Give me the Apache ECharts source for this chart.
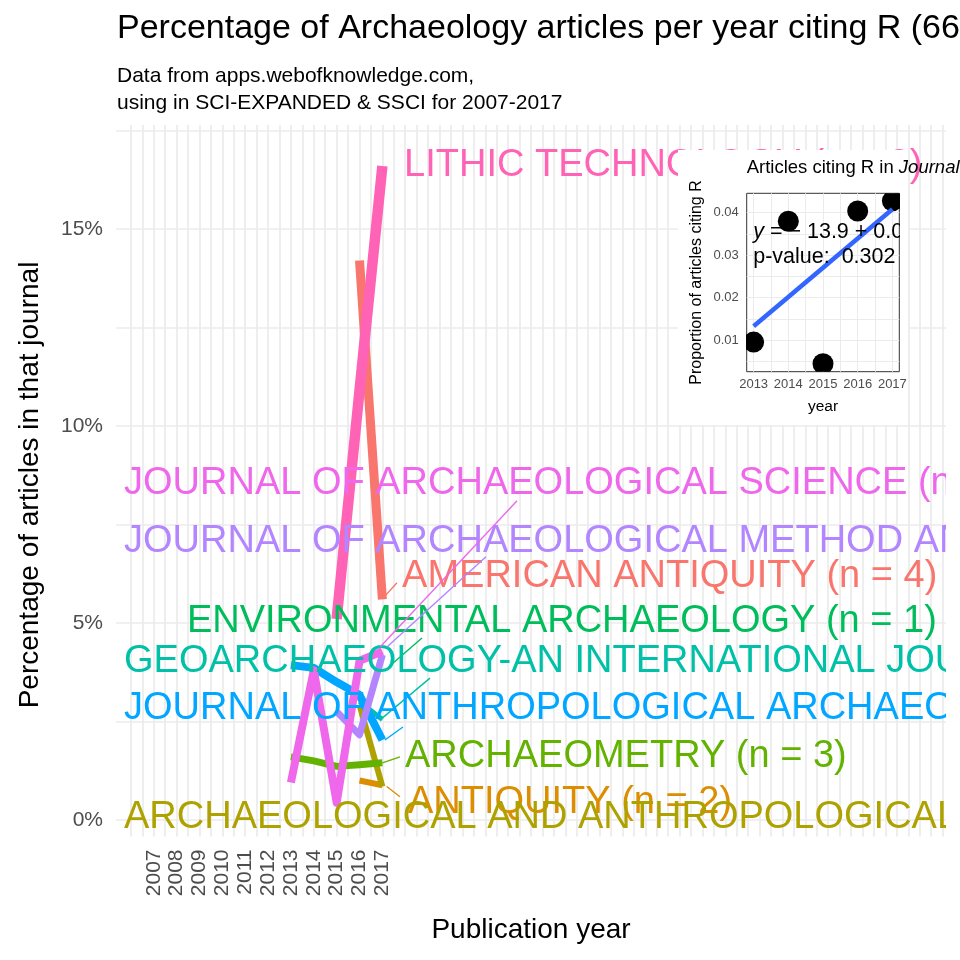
<!DOCTYPE html>
<html><head><meta charset="utf-8">
<script src="https://cdn.jsdelivr.net/npm/echarts@6/dist/echarts.min.js"></script>
<style>html,body{margin:0;padding:0;background:#fff}#c{width:960px;height:960px}</style>
</head><body><div id="c"></div>
<script>
// ---------------- DATA ----------------
const years = [2007, 2008, 2009, 2010, 2011, 2012, 2013, 2014, 2015, 2016, 2017];
const yTickValues = [0, 5, 10, 15];
const journals = [
  'AMERICAN ANTIQUITY', 'ANTIQUITY', 'ARCHAEOLOGICAL AND ANTHROPOLOGICAL SCIENCES',
  'ARCHAEOMETRY', 'ENVIRONMENTAL ARCHAEOLOGY', 'GEOARCHAEOLOGY-AN INTERNATIONAL JOURNAL',
  'JOURNAL OF ANTHROPOLOGICAL ARCHAEOLOGY', 'JOURNAL OF ARCHAEOLOGICAL METHOD AND THEORY',
  'JOURNAL OF ARCHAEOLOGICAL SCIENCE', 'LITHIC TECHNOLOGY'
];
const articleCounts = [4, 2, 2, 3, 1, 2, 5, 4, 25, 3];
// percentage of articles per year citing R, [year, percent]
const americanAntiquity = [[2016, 14.2], [2017, 5.6]];
const antiquity = [[2016, 1.0], [2017, 0.88]];
const archAnthSciences = [[2016, 2.92], [2017, 0.85]];
const archaeometry = [[2013, 1.6], [2014, 1.5], [2015, 1.36], [2016, 1.4], [2017, 1.45]];
const environmentalArch = [[2017, 3.85]];
const geoarchaeology = [[2016, 3.0], [2017, 2.55]];
const journalAnthArch = [[2013, 3.93], [2014, 3.86], [2015, 3.5], [2016, 3.17], [2017, 2.03]];
const journalArchMethod = [[2015, 2.75], [2016, 2.16], [2017, 4.19]];
const journalArchScience = [[2013, 0.95], [2014, 3.8], [2015, 0.44], [2016, 4.04], [2017, 4.28]];
const lithicTechnology = [[2015, 5.1], [2016, 10.9], [2017, 16.6]];
const journalValues = [americanAntiquity, antiquity, archAnthSciences, archaeometry, environmentalArch,
  geoarchaeology, journalAnthArch, journalArchMethod, journalArchScience, lithicTechnology];

// inset: Journal of Archaeological Science
const insetYears = [2013, 2014, 2015, 2016, 2017];
const insetProportion = [0.0095, 0.038, 0.0044, 0.0404, 0.0428];
const insetPValue = '0.302';

// ---------------- STYLE / LAYOUT ----------------
const FONT = '"Liberation Sans", Arial, Helvetica, sans-serif';
const colors = ['#F8766D', '#DB8E00', '#AEA200', '#64B200', '#00BD5C', '#00C1A7', '#00A6FF', '#B385FF', '#EF67EB', '#FF63B6'];
const lineWidths = [9, 6, 6, 7, 5, 5, 8, 7, 8, 10.5];
// repelled label anchors (left edge, vertical centre) in data units, and leader segments
const labelAnchors = [[2017.86, 6.17], [2018.12, 0.43], [2005.70, 0.05], [2017.99, 1.62], [2008.45, 5.03],
  [2005.70, 4.01], [2005.70, 2.84], [2005.70, 7.08], [2005.70, 8.53], [2017.95, 16.62]];
const leaders = [[2017.03, 5.63, 2017.64, 6.02], [2017.19, 0.85, 2017.77, 0.59], null, [2017.0, 1.45, 2017.77, 1.60],
  [2017.46, 3.98, 2018.73, 4.62], [2016.90, 2.54, 2019.08, 3.60], [2017.11, 2.03, 2017.90, 2.36],
  [2017.20, 4.39, 2021.53, 6.68], [2016.90, 4.39, 2022.89, 8.10], null];

const MAIN = { L: 116, R: 946, T: 125, B: 836.5, xMin: 2005.35, xMax: 2041.65, yMin: -0.42, yMax: 17.64 };
const mx = v => MAIN.L + (v - MAIN.xMin) / (MAIN.xMax - MAIN.xMin) * (MAIN.R - MAIN.L);
const my = v => MAIN.B - (v - MAIN.yMin) / (MAIN.yMax - MAIN.yMin) * (MAIN.B - MAIN.T);
const INS = { L: 746.7, R: 899.3, T: 193.3, B: 371.7, xMin: 2012.8, xMax: 2017.2, yMin: 0.00252, yMax: 0.04458 };
const ix = v => INS.L + (v - INS.xMin) / (INS.xMax - INS.xMin) * (INS.R - INS.L);
const iy = v => INS.B - (v - INS.yMin) / (INS.yMax - INS.yMin) * (INS.B - INS.T);

const GRID_COLOR = '#EBEBEB';
const TICK_COLOR = '#4D4D4D';

// regression fit for the inset
const n = insetYears.length;
const mxY = insetYears.reduce((a, b) => a + b, 0) / n;
const myP = insetProportion.reduce((a, b) => a + b, 0) / n;
let sxy = 0, sxx = 0;
insetYears.forEach((x, i) => { sxy += (x - mxY) * (insetProportion[i] - myP); sxx += (x - mxY) * (x - mxY); });
const slope = sxy / sxx;
const intercept = myP - slope * mxY;
const fitLine = [insetYears[0], insetYears[n - 1]].map(x => [x, intercept + slope * x]);

const hidden = { show: false };
const grids = [
  { left: MAIN.L, top: MAIN.T, width: MAIN.R - MAIN.L, height: MAIN.B - MAIN.T },
  { left: MAIN.L, top: my(17.5), width: MAIN.R - MAIN.L, height: my(0) - my(17.5) },
  { left: mx(2006), top: MAIN.T, width: mx(2041.5) - mx(2006), height: MAIN.B - MAIN.T },
  { left: INS.L, top: INS.T, width: INS.R - INS.L, height: INS.B - INS.T, show: true, borderColor: '#333333', borderWidth: 1, backgroundColor: 'transparent', zlevel: 1, z: 1 },
  { left: INS.L, top: iy(0.04), width: INS.R - INS.L, height: iy(0.005) - iy(0.04), zlevel: 1 },
  { left: ix(2013), top: INS.T, width: ix(2017) - ix(2013), height: INS.B - INS.T, zlevel: 1 }
].map(g => Object.assign({ containLabel: false, outerBoundsMode: 'none' }, g));

const xAxes = [
  { type: 'value', gridIndex: 0, min: MAIN.xMin, max: MAIN.xMax, show: false },
  { type: 'value', gridIndex: 1, min: 0, max: 1, show: false },
  { type: 'value', gridIndex: 2, min: 2006, max: 2041.5, interval: 0.5,
    axisLine: hidden, axisTick: hidden,
    splitLine: { show: true, lineStyle: { color: GRID_COLOR, width: 1.7 } },
    axisLabel: { show: true, interval: 0, hideOverlap: false, rotate: 90, margin: 13, color: TICK_COLOR,
      fontSize: 21, fontFamily: FONT, formatter: v => years.includes(v) ? String(v) : '' } },
  { type: 'value', gridIndex: 3, min: INS.xMin, max: INS.xMax, show: false, zlevel: 1 },
  { type: 'value', gridIndex: 4, min: 0, max: 1, show: false, zlevel: 1 },
  { type: 'value', gridIndex: 5, min: 2013, max: 2017, interval: 0.5, zlevel: 1, z: 2,
    axisLine: hidden, axisTick: hidden,
    splitLine: { show: true, lineStyle: { color: GRID_COLOR, width: 1 } },
    axisLabel: { show: true, interval: 0, hideOverlap: false, margin: 6, color: TICK_COLOR, fontSize: 13, fontFamily: FONT,
      formatter: v => insetYears.includes(v) ? String(v) : '' } }
];
const yAxes = [
  { type: 'value', gridIndex: 0, min: MAIN.yMin, max: MAIN.yMax, show: false },
  { type: 'value', gridIndex: 1, min: 0, max: 17.5, interval: 2.5,
    axisLine: hidden, axisTick: hidden,
    splitLine: { show: true, lineStyle: { color: GRID_COLOR, width: 1.7 } },
    axisLabel: { show: true, margin: 13, color: TICK_COLOR, fontSize: 21, fontFamily: FONT,
      formatter: v => yTickValues.includes(v) ? v + '%' : '' } },
  { type: 'value', gridIndex: 2, min: 0, max: 1, show: false },
  { type: 'value', gridIndex: 3, min: INS.yMin, max: INS.yMax, show: false, zlevel: 1 },
  { type: 'value', gridIndex: 4, min: 0.005, max: 0.04, interval: 0.005, zlevel: 1, z: 2,
    axisLine: hidden, axisTick: hidden,
    splitLine: { show: true, lineStyle: { color: GRID_COLOR, width: 1 } },
    axisLabel: { show: true, margin: 8, color: TICK_COLOR, fontSize: 13, fontFamily: FONT,
      formatter: v => (Math.round(v * 1000) % 10 === 0) ? v.toFixed(2) : '' } },
  { type: 'value', gridIndex: 5, min: 0, max: 1, show: false, zlevel: 1 }
];

const series = [];
journalValues.forEach((vals, i) => {
  series.push({
    type: 'line', name: journals[i], xAxisIndex: 0, yAxisIndex: 0, data: vals,
    showSymbol: false, symbol: 'none', z: 2,
    lineStyle: { color: colors[i], width: lineWidths[i], cap: 'butt', join: 'round' },
    emphasis: { disabled: true }
  });
});
// repelled labels with leader segments, clipped to panel
series.push({
  type: 'custom', xAxisIndex: 0, yAxisIndex: 0, clip: true, z: 5,
  data: labelAnchors.map((a, i) => [a[0], a[1], i]),
  renderItem: (params, api) => {
    const i = api.value(2);
    const p = api.coord([api.value(0), api.value(1)]);
    const children = [];
    const s = leaders[i];
    if (s) {
      const a = api.coord([s[0], s[1]]), b = api.coord([s[2], s[3]]);
      children.push({ type: 'line', shape: { x1: a[0], y1: a[1], x2: b[0], y2: b[1] }, style: { stroke: colors[i], lineWidth: 1.4 } });
    }
    children.push({ type: 'text', x: p[0], y: p[1], style: {
      text: journals[i] + ' (n = ' + articleCounts[i] + ')', fill: colors[i],
      font: '38px ' + FONT, align: 'left', verticalAlign: 'middle' } });
    return { type: 'group', children };
  }
});
// inset: fit line
series.push({
  type: 'line', xAxisIndex: 3, yAxisIndex: 3, data: fitLine, zlevel: 1, z: 4, showSymbol: false, symbol: 'none',
  lineStyle: { color: '#3366FF', width: 4.5, cap: 'butt' }, emphasis: { disabled: true }
});
// inset: points (clipped)
series.push({
  type: 'custom', xAxisIndex: 3, yAxisIndex: 3, clip: true, zlevel: 1, z: 3,
  data: insetYears.map((y, i) => [y, insetProportion[i]]),
  renderItem: (params, api) => {
    const p = api.coord([api.value(0), api.value(1)]);
    return { type: 'circle', shape: { cx: p[0], cy: p[1], r: 10.5 }, style: { fill: '#000' } };
  }
});
// inset: equation text (clipped to panel)
const eqText = '{i|y} = \u2212 ' + Math.abs(intercept).toFixed(1) + ' + ' + slope.toPrecision(3) + '{i|x}';
series.push({
  type: 'custom', xAxisIndex: 3, yAxisIndex: 3, clip: true, zlevel: 1, z: 6,
  data: [[INS.xMin, INS.yMax]],
  renderItem: (params, api) => {
    const o = api.coord([api.value(0), api.value(1)]);
    return { type: 'group', children: [
      { type: 'text', x: o[0] + 6.5, y: o[1] + 38.5, style: { text: eqText, fill: '#000', font: '21.5px ' + FONT, verticalAlign: 'middle',
        rich: { i: { fontStyle: 'italic', fontSize: 21.5, fontFamily: FONT } } } },
      { type: 'text', x: o[0] + 6.5, y: o[1] + 64, style: { text: 'p-value:  ' + insetPValue, fill: '#000', font: '21.5px ' + FONT, verticalAlign: 'middle' } }
    ] };
  }
});

const graphic = [
  { type: 'text', x: 117, y: 29, style: { text: 'Percentage of Archaeology articles per year citing R (66 articles)', fill: '#000', font: '34px ' + FONT, verticalAlign: 'middle' } },
  { type: 'text', x: 117, y: 76, style: { text: 'Data from apps.webofknowledge.com,', fill: '#000', font: '21px ' + FONT, verticalAlign: 'middle' } },
  { type: 'text', x: 117, y: 103, style: { text: 'using in SCI-EXPANDED & SSCI for 2007-2017', fill: '#000', font: '21px ' + FONT, verticalAlign: 'middle' } },
  { type: 'text', x: 30, y: 485, rotation: Math.PI / 2, style: { text: 'Percentage of articles in that journal', fill: '#000', font: '28px ' + FONT, align: 'center', verticalAlign: 'middle' } },
  { type: 'text', x: (MAIN.L + MAIN.R) / 2, y: 930, style: { text: 'Publication year', fill: '#000', font: '28px ' + FONT, align: 'center', verticalAlign: 'middle' } },
  // inset background and titles
  { type: 'rect', zlevel: 1, z: 0, shape: { x: 678, y: 150, width: 230, height: 275 }, style: { fill: '#FFFFFF' } },
  { type: 'text', zlevel: 1, z: 5, x: INS.L, y: 168, style: { text: '{n|Articles citing R in }{i|Journal of Archaeological Science}', fill: '#000', font: '18.5px ' + FONT, verticalAlign: 'middle',
    rich: { n: { fontSize: 18.5, fontFamily: FONT }, i: { fontSize: 18.5, fontFamily: FONT, fontStyle: 'italic' } } } },
  { type: 'text', zlevel: 1, z: 5, x: 697, y: (INS.T + INS.B) / 2, rotation: Math.PI / 2, style: { text: 'Proportion of articles citing R', fill: '#000', font: '16px ' + FONT, align: 'center', verticalAlign: 'middle' } },
  { type: 'text', zlevel: 1, z: 5, x: (INS.L + INS.R) / 2, y: 406.5, style: { text: 'year', fill: '#000', font: '15.5px ' + FONT, align: 'center', verticalAlign: 'middle' } }
];

const chart = echarts.init(document.getElementById('c'), null, { renderer: 'canvas', width: 960, height: 960 });
chart.setOption({
  animation: false, backgroundColor: '#FFFFFF',
  grid: grids, xAxis: xAxes, yAxis: yAxes, series, graphic
});
</script></body></html>
